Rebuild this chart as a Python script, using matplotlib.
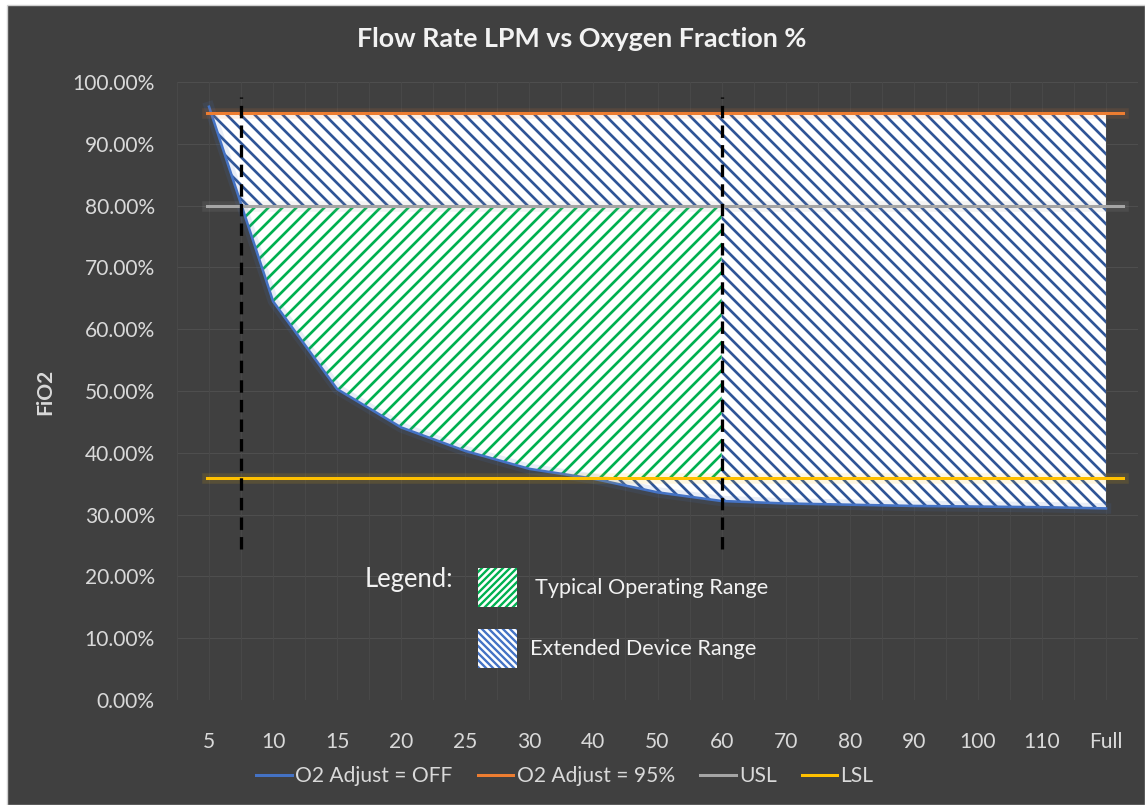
import matplotlib
matplotlib.use("Agg")
import matplotlib.pyplot as plt
import matplotlib.patheffects as pe
from matplotlib.lines import Line2D
from matplotlib.patches import Rectangle
import numpy as np

# flow rate categories (LPM) and FiO2 values in %
categories = ["5", "10", "15", "20", "25", "30", "40", "50", "60",
              "70", "80", "90", "100", "110", "Full"]
o2_off = [96.0, 64.5, 50.3, 44.1, 40.3, 37.4, 35.8, 33.6, 32.2,
          31.8, 31.6, 31.4, 31.3, 31.2, 31.0]
o2_95 = 95.0
usl = 80.0
lsl = 36.0
# dashed markers for typical operating range, in category index units
typical_bounds = [0.5, 8.0]

W, H, DPI = 1145, 805, 84
plt.rcParams["font.family"] = ["Lato", "DejaVu Sans"]
plt.rcParams["hatch.linewidth"] = 2.3

fig = plt.figure(figsize=(W / DPI, H / DPI), dpi=DPI, facecolor="white")


def fx(px):
    return px / W


def fy(py):
    return 1 - py / H


def hatch_lw(artist, lw):
    if hasattr(artist, "set_hatch_linewidth"):
        artist.set_hatch_linewidth(lw)


# dark chart frame
fig.patches.append(Rectangle((fx(7), 0), 1 - fx(7), fy(5), transform=fig.transFigure,
                             facecolor="#404040", edgecolor="#d0d0d0", lw=1.2, zorder=-10))

ax = fig.add_axes([fx(177), fy(700), fx(1138) - fx(177), (700 - 82) / H])
ax.set_facecolor("none")
for s in ax.spines.values():
    s.set_visible(False)

n = len(categories)
idx = np.arange(n)
ax.set_xlim(-0.5, n - 0.5)
ax.set_ylim(0, 100)

# faint gridlines
for v in range(0, 101, 10):
    ax.axhline(v, color="#4e4e4e", lw=0.9, zorder=1)
for k in np.arange(-0.5, n, 0.5):
    ax.axvline(k, color="#494949", lw=0.8, zorder=1)

# hatched ranges
xs = np.linspace(0, n - 1, 4001)
cs = np.interp(xs, idx, o2_off)

blue_fill = ax.fill_between(xs, np.minimum(cs, o2_95), o2_95, facecolor="white",
                            edgecolor="#2f5597", hatch="\\\\", lw=0, zorder=2)
green_mask = (cs < usl) & (xs <= typical_bounds[1])
green_fill = ax.fill_between(xs, np.maximum(cs, lsl), usl, where=green_mask, interpolate=True,
                             facecolor="white", edgecolor="#00b050", hatch="//", lw=0, zorder=3)
hatch_lw(blue_fill, 2.3)
hatch_lw(green_fill, 2.3)

# series lines
x_ext = [-0.03, n - 1 + 0.27]
glow = lambda c: [pe.Stroke(linewidth=9, foreground=c, alpha=0.12), pe.Normal()]
ax.plot(idx, o2_off, color="#4472c4", lw=2.2, zorder=5, path_effects=glow("#4472c4"))
ax.plot(x_ext, [o2_95, o2_95], color="#ed7d31", lw=2.6, zorder=5, path_effects=glow("#ed7d31"))
ax.plot(x_ext, [usl, usl], color="#a5a5a5", lw=2.6, zorder=5, path_effects=glow("#a5a5a5"))
ax.plot(x_ext, [lsl, lsl], color="#ffc000", lw=2.6, zorder=5, path_effects=glow("#ffc000"))

for b in typical_bounds:
    ax.plot([b, b], [24.5, 97.5], color="black", lw=2.8, ls=(0, (3.8, 2.2)), zorder=6)

# axes labels / ticks
ax.set_xticks(idx)
ax.set_xticklabels(categories)
ax.set_yticks(range(0, 101, 10))
ax.set_yticklabels([f"{v:.2f}%" for v in range(0, 101, 10)])
ax.tick_params(axis="both", length=0, colors="#d9d9d9", labelsize=18)
ax.tick_params(axis="x", pad=27)
ax.tick_params(axis="y", pad=19)

fig.text(fx(582), fy(39), "Flow Rate LPM vs Oxygen Fraction %", ha="center", va="center",
         color="#f2f2f2", fontsize=23, fontweight="bold")
fig.text(fx(45), fy(392), "FiO2", ha="center", va="center", rotation=90,
         color="#d9d9d9", fontsize=18, fontweight="bold")

# custom range legend
fig.text(fx(365), fy(579), "Legend:", ha="left", va="center", color="#f2f2f2", fontsize=22)
sq_green = Rectangle((fx(478), fy(607)), fx(39), 39 / H, transform=fig.transFigure,
                     facecolor="white", edgecolor="#00b050", hatch="////", lw=0, zorder=3)
sq_blue = Rectangle((fx(478), fy(668)), fx(39), 39 / H, transform=fig.transFigure,
                    facecolor="white", edgecolor="#4472c4", hatch="\\\\\\\\", lw=0, zorder=3)
hatch_lw(sq_green, 2.0)
hatch_lw(sq_blue, 2.0)
fig.patches.extend([sq_green, sq_blue])
fig.text(fx(535), fy(588), "Typical Operating Range", ha="left", va="center",
         color="#f2f2f2", fontsize=18.5)
fig.text(fx(530), fy(649), "Extended Device Range", ha="left", va="center",
         color="#f2f2f2", fontsize=18.5)

# series legend
handles = [Line2D([], [], color="#4472c4", lw=2.6),
           Line2D([], [], color="#ed7d31", lw=2.6),
           Line2D([], [], color="#a5a5a5", lw=2.6),
           Line2D([], [], color="#ffc000", lw=2.6)]
labels = ["O2 Adjust = OFF", "O2 Adjust = 95%", "USL", "LSL"]
leg = fig.legend(handles, labels, loc="center", bbox_to_anchor=(fx(565), fy(776)), ncol=4,
                 frameon=False, fontsize=18, handlelength=1.7, handletextpad=0.15,
                 columnspacing=1.2, labelcolor="#d9d9d9")

fig.savefig("out.png", dpi=DPI, facecolor="white")
